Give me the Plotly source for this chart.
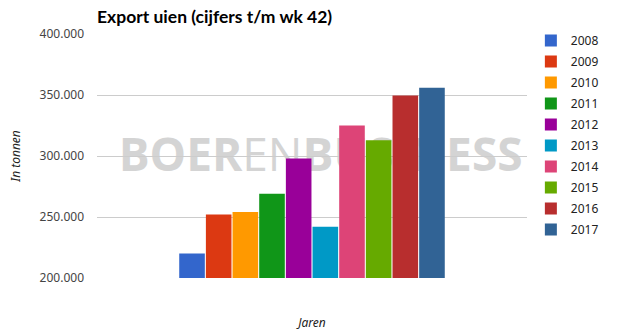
import plotly.graph_objects as go

years = ["2008", "2009", "2010", "2011", "2012", "2013", "2014", "2015", "2016", "2017"]
values = [220000, 252000, 254000, 269000, 298000, 242000, 325000, 313000, 349500, 356000]
colors = ["#3366cc", "#dc3912", "#ff9900", "#109618", "#990099",
          "#0099c6", "#dd4477", "#66aa00", "#b82e2e", "#316395"]
tick_vals = [200000, 250000, 300000, 350000, 400000]
tick_text = ["200.000", "250.000", "300.000", "350.000", "400.000"]
category = ["Export uien"]

fig = go.Figure()
for yr, v, c in zip(years, values, colors):
    fig.add_trace(go.Bar(x=category, y=[v], name=yr, marker_color=c,
                         marker_line_width=0, legendgroup=yr))

fig.add_shape(type="rect", xref="paper", yref="y", x0=0.04, x1=1.0, y0=270000, y1=330000,
              line_width=0, fillcolor="rgba(0,0,0,0)", layer="below",
              label=dict(text="<b>BOER</b>EN<b>BUSINESS</b>", textposition="middle center",
                         font=dict(family="Open Sans", size=46, color="#d4d4d4")))

fig.update_layout(
    width=620, height=336,
    margin=dict(l=97, r=93, t=34, b=58, autoexpand=False),
    paper_bgcolor="white", plot_bgcolor="white",
    barmode="group", bargap=0.38, bargroupgap=0.04,
    title=dict(text="<b>Export uien (cijfers t/m wk 42)</b>", x=97/620, xanchor="left",
               y=1 - 17/336, yanchor="middle",
               font=dict(family="Lato", size=17.5, color="#000000")),
    legend=dict(x=1.009, xanchor="left", y=1.033, yanchor="top",
                font=dict(family="Noto Sans", size=12, color="#222222"),
                tracegroupgap=2, bgcolor="rgba(0,0,0,0)", maxheight=330),
    font=dict(family="Noto Sans", size=12, color="#444444"),
)
fig.update_yaxes(range=[200000, 400000], tickvals=tick_vals, ticktext=tick_text,
                 showgrid=True, gridcolor="#cccccc", gridwidth=1, zeroline=False,
                 showline=False, ticklabelstandoff=12, automargin=False,
                 tickfont=dict(family="Noto Sans", size=12, color="#444444"),
                 title=dict(text="<i>In tonnen</i>", standoff=16,
                            font=dict(family="Noto Sans", size=12, color="#222222")))
fig.update_xaxes(showticklabels=False, showgrid=False, showline=False, zeroline=False,
                 automargin=False,
                 title=dict(text="<i>Jaren</i>", standoff=40,
                            font=dict(family="Noto Sans", size=12, color="#222222")))

fig.write_html("out.html")
